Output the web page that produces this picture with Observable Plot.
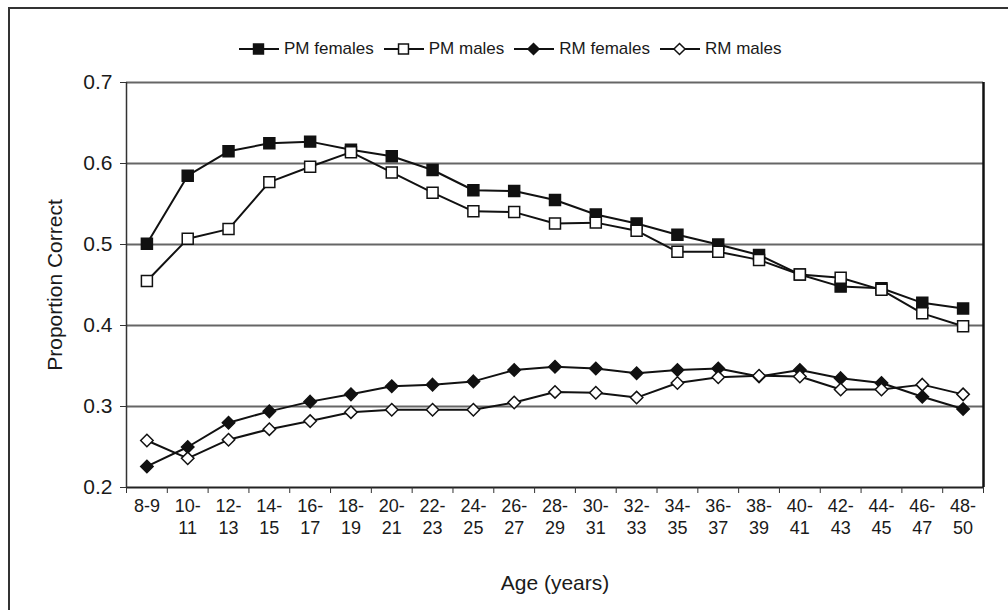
<!DOCTYPE html>
<html><head><meta charset="utf-8">
<script src="https://cdn.jsdelivr.net/npm/d3@7"></script>
<script src="https://cdn.jsdelivr.net/npm/@observablehq/plot@0.6"></script>
<style>
body{margin:0;background:#fff;font-family:"Liberation Sans",Arial,sans-serif;color:#1a1a1a;}
#wrap{position:relative;width:1008px;height:610px;overflow:hidden;background:#fff;}
#frame{position:absolute;left:8px;top:7px;width:1100px;height:700px;border-left:2px solid #333;border-top:2px solid #333;z-index:2;pointer-events:none;}
#legend{position:absolute;top:38px;left:239px;height:22px;display:flex;align-items:center;font-size:17px;white-space:nowrap;}
#legend .item{display:flex;align-items:center;margin-right:10px;}
#legend svg{display:block;margin-right:5px;}
#chart{position:absolute;left:0;top:60px;}
</style></head>
<body><div id="wrap"><div id="frame"></div><div id="legend"></div><div id="chart"></div></div>
<script>
const ages = ["8-9","10-\n11","12-\n13","14-\n15","16-\n17","18-\n19","20-\n21","22-\n23","24-\n25","26-\n27","28-\n29","30-\n31","32-\n33","34-\n35","36-\n37","38-\n39","40-\n41","42-\n43","44-\n45","46-\n47","48-\n50"];
const pmFemales = [0.501,0.585,0.615,0.625,0.627,0.617,0.609,0.592,0.567,0.566,0.555,0.537,0.526,0.512,0.500,0.487,0.463,0.448,0.446,0.428,0.421];
const pmMales   = [0.455,0.507,0.519,0.577,0.596,0.614,0.589,0.564,0.541,0.540,0.526,0.527,0.517,0.491,0.491,0.481,0.463,0.459,0.444,0.415,0.399];
const rmFemales = [0.226,0.250,0.280,0.294,0.306,0.315,0.325,0.327,0.331,0.345,0.349,0.347,0.341,0.345,0.347,0.337,0.345,0.335,0.329,0.312,0.297];
const rmMales   = [0.258,0.236,0.259,0.272,0.282,0.293,0.296,0.296,0.296,0.305,0.318,0.317,0.311,0.329,0.336,0.338,0.337,0.321,0.321,0.327,0.315];
const seriesNames = ["PM females","PM males","RM females","RM males"];
const yTicks = [0.2,0.3,0.4,0.5,0.6,0.7];
const gridTicks = [0.3,0.4,0.5,0.6,0.7];

const seriesValues = [pmFemales, pmMales, rmFemales, rmMales];
const seriesStyle = [
  {symbol:"square", fill:"#111", r:6.2},
  {symbol:"square", fill:"#fff", r:6.2},
  {symbol:"diamond2", fill:"#111", r:5.6},
  {symbol:"diamond2", fill:"#fff", r:5.6}
];
const data = seriesNames.map((name, k) => seriesValues[k].map((v, i) => ({series:name, i, v})));
const n = ages.length;
const boundaries = d3.range(n + 1).map(i => i - 0.5);
const centers = d3.range(n);

const marks = [
  Plot.gridY(gridTicks, {stroke:"#666", strokeOpacity:1, strokeWidth:2}),
  Plot.ruleY([0.2], {stroke:"#222", strokeWidth:2}),
  Plot.ruleX([-0.5], {y1:0.2, y2:0.7, stroke:"#333", strokeWidth:1.5}),
  Plot.ruleX([n - 0.5], {y1:0.2, y2:0.7, stroke:"#111", strokeWidth:2.5}),
  Plot.axisY({ticks:yTicks, tickFormat:d3.format(".1f"), tickSize:6, tickPadding:8, fontSize:21, label:null, stroke:"#333"}),
  Plot.axisX({ticks:boundaries, tickFormat:() => "", tickSize:6, label:null, stroke:"#333"}),
  Plot.axisX({ticks:centers, tickFormat:i => ages[i], tickSize:0, tickPadding:9, fontSize:18, lineHeight:1.22, label:null}),
  Plot.text(["Proportion Correct"], {frameAnchor:"left", textAnchor:"middle", lineAnchor:"middle", rotate:-90, dx:-71, fontSize:21, fill:"#1a1a1a"}),
  Plot.text(["Age (years)"], {frameAnchor:"bottom", lineAnchor:"middle", dy:96, fontSize:21, fill:"#1a1a1a"})
];
data.forEach((d, k) => {
  marks.push(Plot.line(d, {x:"i", y:"v", stroke:"#111", strokeWidth:2}));
});
data.forEach((d, k) => {
  const s = seriesStyle[k];
  marks.push(Plot.dot(d, {x:"i", y:"v", symbol:s.symbol, r:s.r, fill:s.fill, stroke:"#111", strokeWidth:1.5}));
});

const chart = Plot.plot({
  width:1008, height:550,
  marginTop:22, marginBottom:123, marginLeft:126, marginRight:25,
  x:{type:"linear", domain:[-0.5, n - 0.5], axis:null},
  y:{domain:[0.2, 0.7], axis:null},
  style:{fontFamily:"'Liberation Sans', Arial, sans-serif", color:"#1a1a1a", background:"transparent"},
  marks
});
document.getElementById("chart").appendChild(chart);

// legend
const leg = d3.select("#legend");
const symMap = {square: d3.symbolSquare, diamond2: d3.symbolDiamond2};
seriesNames.forEach((name, k) => {
  const s = seriesStyle[k];
  const item = leg.append("div").attr("class", "item");
  const svg = item.append("svg").attr("width", 40).attr("height", 18);
  svg.append("line").attr("x1", 0).attr("x2", 40).attr("y1", 9).attr("y2", 9).attr("stroke", "#111").attr("stroke-width", 2);
  svg.append("path").attr("transform", "translate(19.5,9)")
    .attr("d", d3.symbol(symMap[s.symbol], Math.PI * (s.r - 0.6) * (s.r - 0.6))())
    .attr("fill", s.fill).attr("stroke", "#111").attr("stroke-width", 1.5);
  item.append("span").text(name);
});
</script>
</body></html>
